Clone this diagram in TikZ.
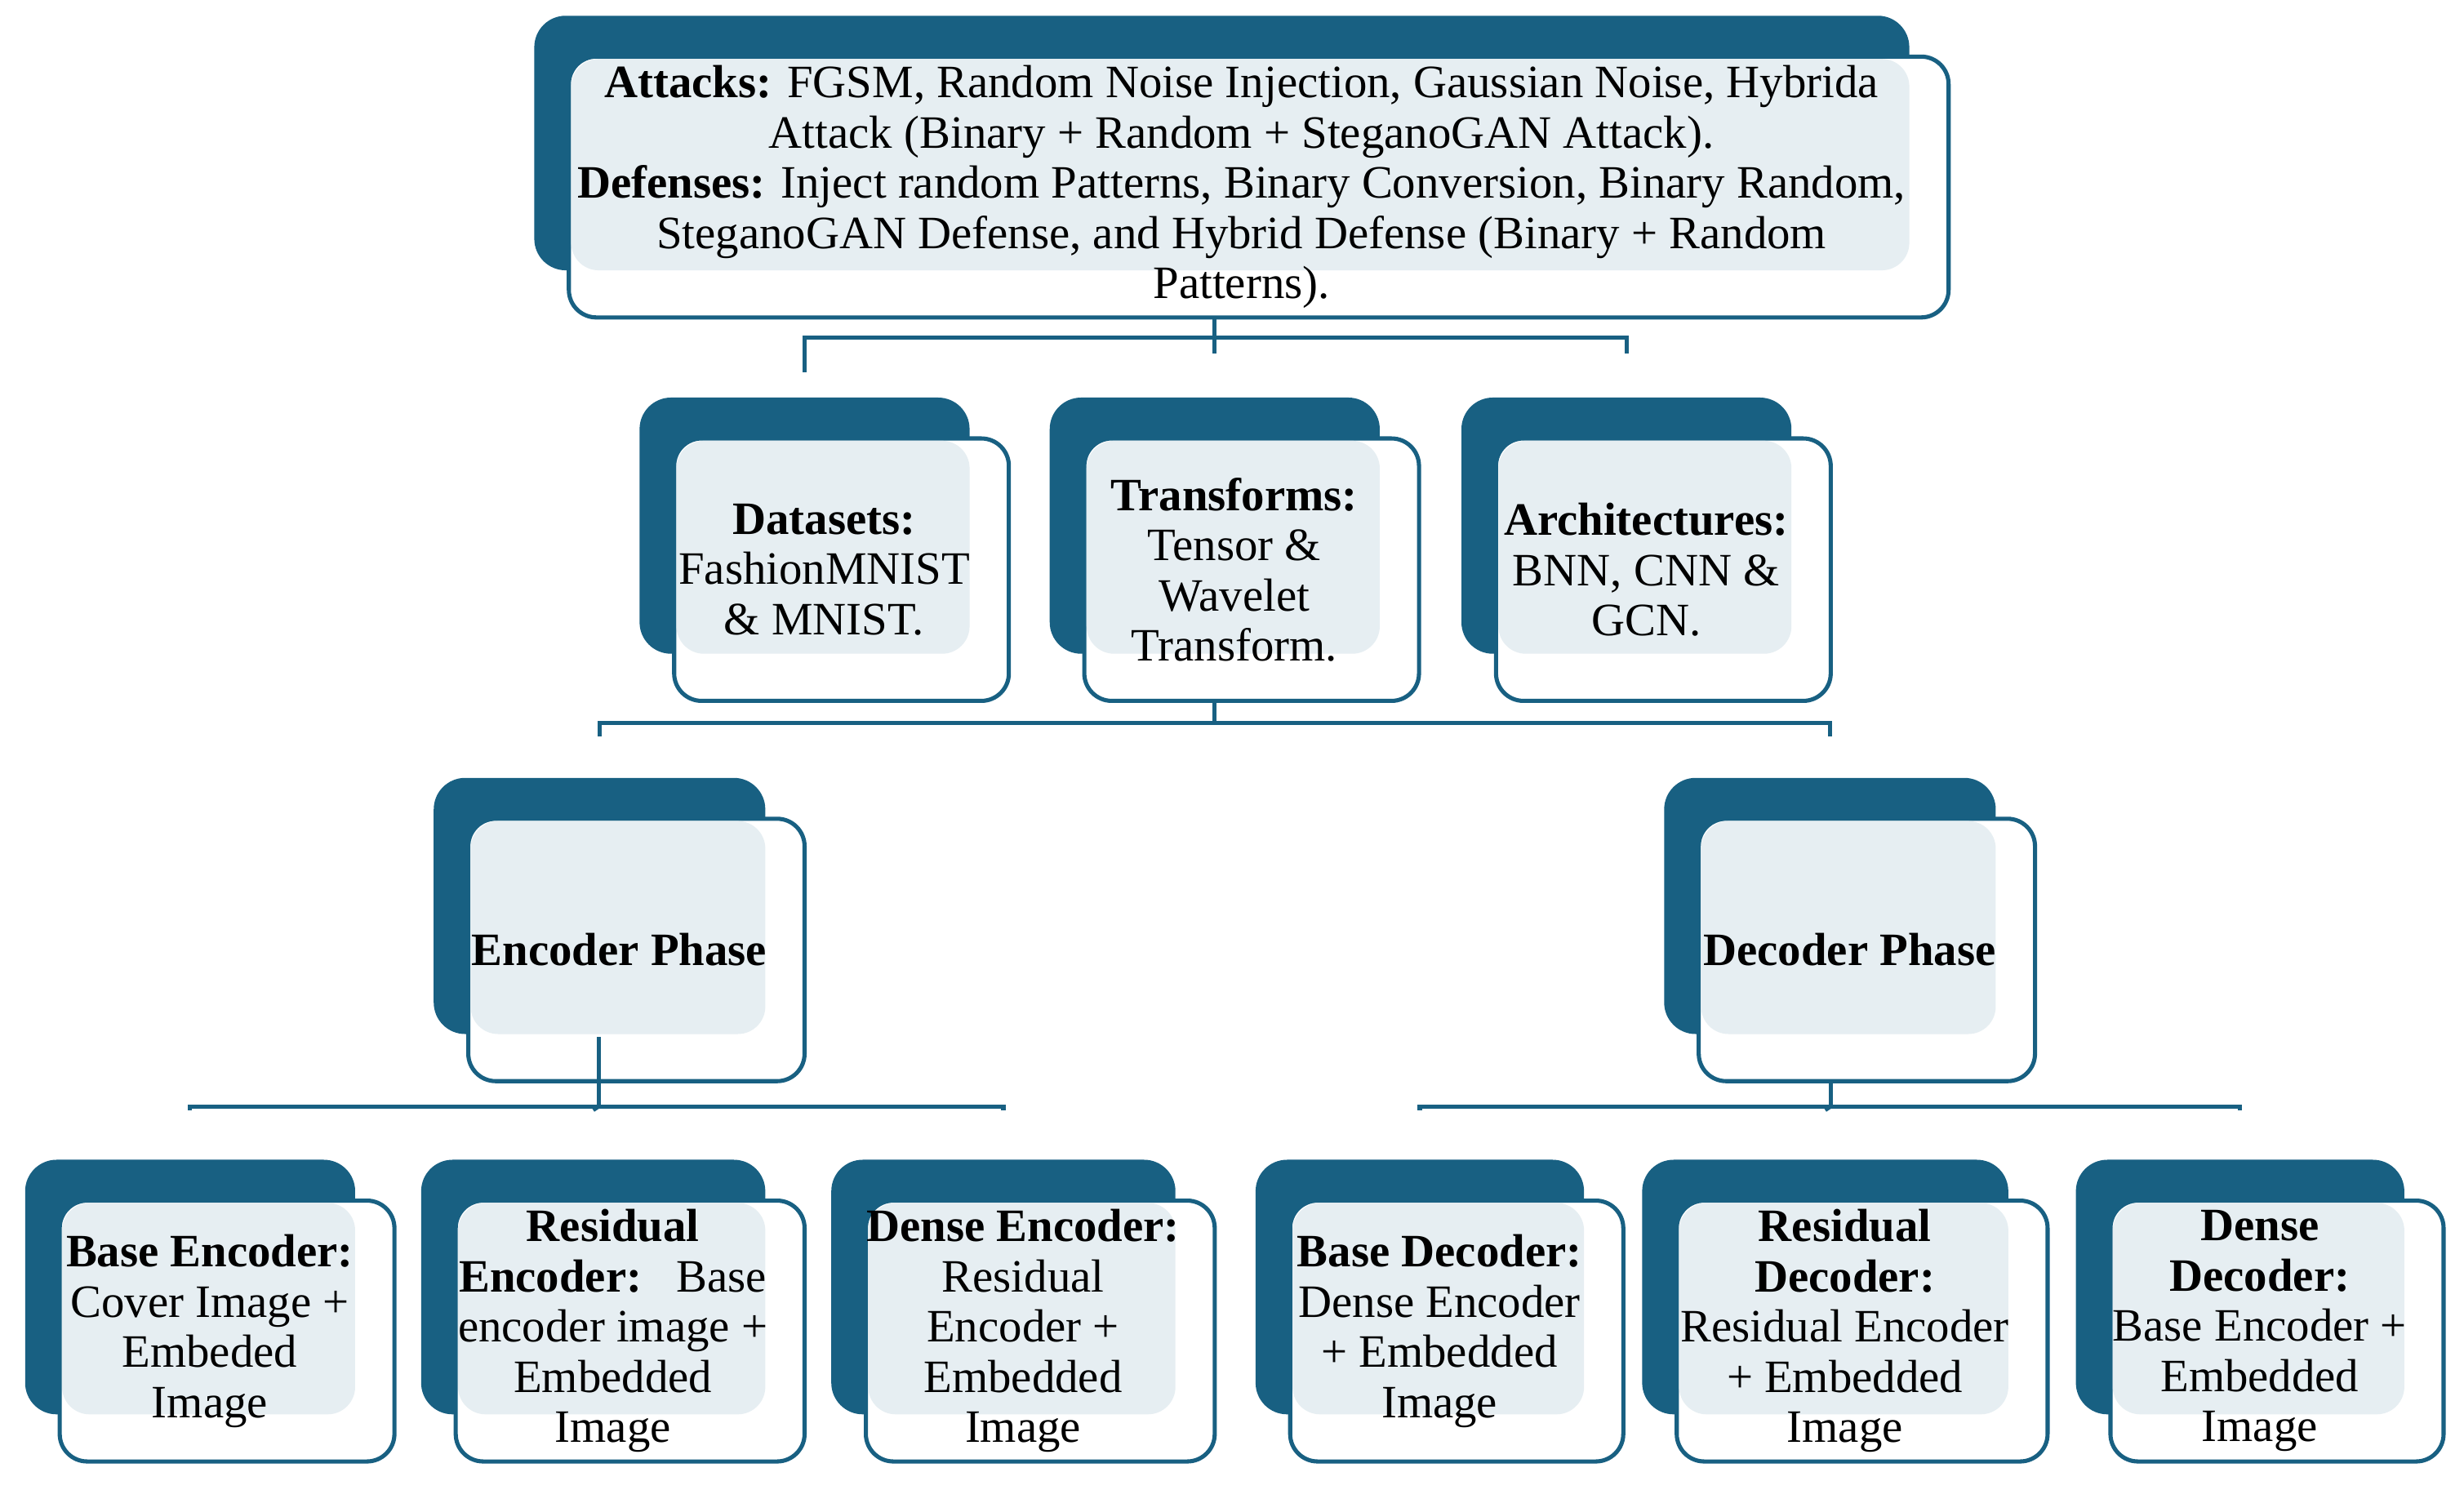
\documentclass[tikz,border=0pt]{standalone}
\usepackage{fontspec}
\setmainfont{Liberation Serif}
\definecolor{dk}{RGB}{24,96,130}
\definecolor{lt}{RGB}{230,238,242}
\newcommand\card[6]{%
  \fill[dk,rounded corners=0.4cm] (#2,#3) rectangle (#4,#5);
  \draw[dk,line width=1.5pt,fill=white,rounded corners=0.35cm] (#2+22,#3+26) rectangle (#4+25,#5+30);
  \fill[lt,rounded corners=0.35cm] (#2+23.5,#3+27.5) rectangle (#4,#5);
  \node[txt] (#1) at ({(#2+#4)/2+12.5},{(#3+#5)/2+28}) {#6};
  \coordinate (#1-t) at ({(#2+#4)/2},#3);
  \coordinate (#1-b) at ({(#2+#4)/2},#5+30);
}
\begin{document}
\begin{tikzpicture}[x=0.02cm,y=-0.02cm,
  txt/.style={align=center,font=\fontsize{16.8}{18.2}\selectfont,inner sep=0pt},
  con/.style={dk,line width=1.5pt}]
\useasboundingbox (0,0) rectangle (1568,948);
\card{top}{340}{10}{1215}{172}{\textbf{Attacks:} FGSM, Random Noise Injection, Gaussian Noise, Hybrida\\Attack (Binary + Random + SteganoGAN Attack).\\\textbf{Defenses:} Inject random Patterns, Binary Conversion, Binary Random,\\SteganoGAN Defense, and Hybrid Defense (Binary + Random\\Patterns).}
\card{ds}{407}{253}{617}{416}{\textbf{Datasets:}\\FashionMNIST\\\& MNIST.}
\card{tr}{668}{253}{878}{416}{\textbf{Transforms:}\\Tensor \&\\Wavelet\\Transform.}
\card{ar}{930}{253}{1140}{416}{\textbf{Architectures:}\\BNN, CNN \&\\GCN.}
\card{enc}{276}{495}{487}{658}{\textbf{Encoder Phase}}
\card{dec}{1059}{495}{1270}{658}{\textbf{Decoder Phase}}
\card{be}{16}{738}{226}{900}{\textbf{Base Encoder:}\\Cover Image +\\Embeded\\Image}
\card{re}{268}{738}{487}{900}{\textbf{Residual}\\\textbf{Encoder:}\ \ \ Base\\encoder image +\\Embedded\\Image}
\card{de}{529}{738}{748}{900}{\textbf{Dense Encoder:}\\Residual\\Encoder +\\Embedded\\Image}
\card{bd}{799}{738}{1008}{900}{\textbf{Base Decoder:}\\Dense Encoder\\+ Embedded\\Image}
\card{rd}{1045}{738}{1278}{900}{\textbf{Residual}\\\textbf{Decoder:}\\Residual Encoder\\+ Embedded\\Image}
\card{dd}{1321}{738}{1530}{900}{\textbf{Dense}\\\textbf{Decoder:}\\Base Encoder +\\Embedded\\Image}
% connectors
\draw[con] (773,203) -- (773,215);
\draw[con] (ds-t) ++(0,-16) |- (773,215) -| ([yshift=16]ar-t);
\draw[con] (773,215) -- ([yshift=16]tr-t);
\draw[con] (tr-b) -- (773,460);
\draw[con] ([yshift=15]enc-t) |- (773,460) -| ([yshift=15]dec-t);
\draw[con] (381,660) -- (381,704);
\draw[con] ([yshift=18]be-t) |- (381,704) -| ([yshift=18]de-t);
\draw[con] (381,704) -- ([yshift=18]re-t);
\draw[con] (1165,688) -- (1165,704);
\draw[con] ([yshift=18]bd-t) |- (1165,704) -| ([yshift=18]dd-t);
\draw[con] (1165,704) -- ([yshift=18]rd-t);
\end{tikzpicture}
\end{document}
